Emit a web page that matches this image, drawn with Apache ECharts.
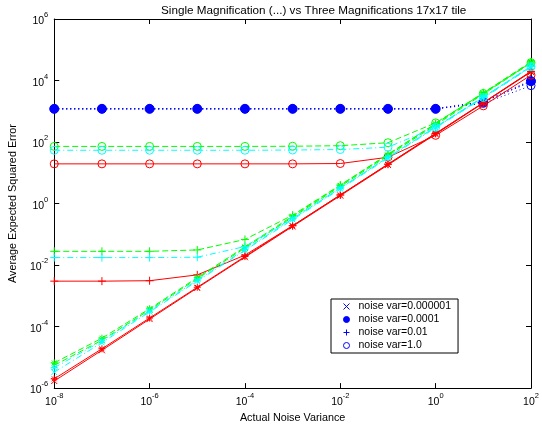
<!DOCTYPE html>
<html><head><meta charset="utf-8">
<script src="https://cdn.jsdelivr.net/npm/echarts@6/dist/echarts.min.js"></script>
<style>html,body{margin:0;padding:0;background:#fff}#c{width:542px;height:429px}</style>
</head><body><div id="c"></div>
<script>
// ---- data ----
const noiseX = [1e-8, 1e-7, 1e-6, 1e-5, 1e-4, 1e-3, 1e-2, 1e-1, 1, 10, 100];
const legendNames = ['noise var=0.000001', 'noise var=0.0001', 'noise var=0.01', 'noise var=1.0'];

const blueX    = [1200, 1200, 1200, 1200, 1200, 1200, 1200, 1200, 1200, 2100, 10000];
const blueStar = [1200, 1200, 1200, 1200, 1200, 1200, 1200, 1200, 1200, 2000, 9500];
const bluePlus = [1200, 1200, 1200, 1200, 1200, 1200, 1200, 1200, 1200, 2000, 9000];
const blueO    = [1200, 1200, 1200, 1200, 1200, 1200, 1200, 1200, 1200, 1800, 6800];

const redX    = [1.7e-6, 1.7e-5, 1.75e-4, 1.8e-3, 1.8e-2, 0.18, 1.8, 18, 180, 1850, 19000];
const redStar = [2.0e-6, 1.9e-5, 1.9e-4, 1.9e-3, 1.9e-2, 0.19, 1.9, 19, 190, 1900, 20000];
const redPlus = [0.003, 0.003, 0.0031, 0.0048, 0.021, 0.19, 1.9, 19, 190, 1900, 19500];
const redO    = [19.5, 19.5, 19.5, 19.5, 19.5, 19.5, 20, 32, 165, 1500, 15000];

const greenX    = [5.5e-6, 3.6e-5, 3.5e-4, 3.6e-3, 0.036, 0.36, 3.6, 36, 360, 3600, 37000];
const greenStar = [6.6e-6, 4.2e-5, 3.8e-4, 3.9e-3, 0.039, 0.39, 3.9, 39, 390, 3900, 40000];
const greenPlus = [0.028, 0.028, 0.028, 0.031, 0.068, 0.42, 4.0, 40, 400, 4000, 40000];
const greenO    = [72, 72, 72, 72, 72, 73, 76, 95, 420, 3800, 38000];

const cyanX    = [3.3e-6, 3.0e-5, 3.0e-4, 3.0e-3, 0.03, 0.3, 3.0, 30, 290, 2700, 27000];
const cyanStar = [4.6e-6, 3.4e-5, 3.2e-4, 3.2e-3, 0.032, 0.32, 3.2, 32, 310, 2900, 29000];
const cyanPlus = [0.0175, 0.0175, 0.0175, 0.018, 0.04, 0.33, 3.2, 32, 310, 2900, 29000];
const cyanO    = [54, 54, 54, 54, 54, 55, 57, 68, 300, 2800, 28000];

// ---- styles ----
const FONT = '"Liberation Sans", Arial, Helvetica, sans-serif';
const SYM = {
  x: {symbol: 'path://M0,0L10,10M10,0L0,10', size: 6},
  star: {symbol: 'path://M5,0L5,10M0,5L10,5M1.5,1.5L8.5,8.5M8.5,1.5L1.5,8.5', size: 7},
  dot: {symbol: 'circle', size: 9, filled: true},
  plus: {symbol: 'path://M5,0L5,10M0,5L10,5', size: 8},
  o: {symbol: 'circle', size: 8}
};
const LS = {dotted: [1, 3], solid: null, dashed: [6, 3], dashdot: [6, 3, 1, 3]};

function mk(name, color, ls, mark, vals, z) {
  const s = SYM[mark];
  return {
    name: name, type: 'line', data: noiseX.map((x, i) => [x, vals[i]]),
    symbol: s.symbol, symbolSize: s.size, showSymbol: true, clip: false,
    lineStyle: {color: color, width: 1, type: LS[ls] || 'solid'},
    itemStyle: {color: s.filled ? color : 'rgba(0,0,0,0)', borderColor: color, borderWidth: 1},
    emphasis: {disabled: true}, z: z, animation: false
  };
}
const groups = [
  ['#0000ff', 'dotted', [blueX, blueStar, bluePlus, blueO], true],
  ['#ff0000', 'solid', [redX, redStar, redPlus, redO], false],
  ['#00ff00', 'dashed', [greenX, greenStar, greenPlus, greenO], false],
  ['#00ffff', 'dashdot', [cyanX, cyanStar, cyanPlus, cyanO], false]
];
const marks = ['x', 'star', 'plus', 'o'];
const series = [];
groups.forEach((g, gi) => {
  g[2].forEach((vals, mi) => {
    const isLegend = g[3];
    const nm = isLegend ? legendNames[mi] : ('s' + gi + '_' + mi);
    const mark = (isLegend && marks[mi] === 'star') ? 'dot' : marks[mi];
    series.push(mk(nm, g[0], g[1], mark, vals, 2 + gi));
  });
});

function supLabel(v) {
  const e = Math.round(Math.log10(v));
  return '{b|10}{s|' + e + '}';
}
const rich = {
  b: {fontSize: 10.5, fontFamily: FONT, color: '#000', padding: [5, 0, 0, 0], verticalAlign: 'bottom'},
  s: {fontSize: 7.5, fontFamily: FONT, color: '#000', verticalAlign: 'top'}
};
const axisCommon = {
  type: 'log', logBase: 10, interval: 2,
  axisLine: {show: true, onZero: false, lineStyle: {color: '#000', width: 1}},
  axisTick: {show: true, inside: true, length: 5, lineStyle: {color: '#000'}},
  minorTick: {show: false}, splitLine: {show: false}
};

const chart = echarts.init(document.getElementById('c'), null, {renderer: 'canvas'});
chart.setOption({
  animation: false,
  backgroundColor: '#fff',
  title: {
    text: 'Single Magnification (...) vs Three Magnifications 17x17 tile',
    left: 156, top: 0,
    textStyle: {fontSize: 11.7, fontWeight: 'normal', fontFamily: FONT, color: '#000'}
  },
  grid: {left: 53, right: 11, top: 19, bottom: 32, containLabel: false},
  xAxis: [
    Object.assign({}, axisCommon, {
      min: 1e-8, max: 100, position: 'bottom',
      name: 'Actual Noise Variance', nameLocation: 'middle', nameGap: 24,
      nameTextStyle: {fontSize: 10.8, fontFamily: FONT, color: '#000'},
      axisLabel: {formatter: supLabel, rich: rich, margin: 4}
    }),
    Object.assign({}, axisCommon, {
      min: 1e-8, max: 100, position: 'top', axisLabel: {show: false}
    })
  ],
  yAxis: [
    Object.assign({}, axisCommon, {
      min: 1e-6, max: 1e6, position: 'left',
      name: 'Average Expected Squared Error', nameLocation: 'middle', nameGap: 26,
      nameTextStyle: {fontSize: 10.8, fontFamily: FONT, color: '#000'},
      axisLabel: {formatter: supLabel, rich: rich, margin: 6}
    }),
    Object.assign({}, axisCommon, {
      min: 1e-6, max: 1e6, position: 'right', axisLabel: {show: false}
    })
  ],
  legend: {
    data: legendNames.map((n, i) => ({
      name: n, icon: (marks[i] === 'star' ? 'circle' : SYM[marks[i]].symbol),
      itemStyle: marks[i] === 'star' ? {color: '#0000ff'} : undefined
    })),
    orient: 'vertical', left: 331, top: 299,
    padding: [2, 7, 2, 12], itemWidth: 6, itemHeight: 6, itemGap: 2,
    borderColor: '#000', borderWidth: 1, backgroundColor: '#fff',
    selectedMode: false,
    textStyle: {fontSize: 10.5, fontFamily: FONT, color: '#000', padding: [0, 0, 0, 4]},
    itemStyle: {color: 'rgba(0,0,0,0)', borderColor: '#0000ff', borderWidth: 1}
  },
  series: series
});
</script>
</body></html>
